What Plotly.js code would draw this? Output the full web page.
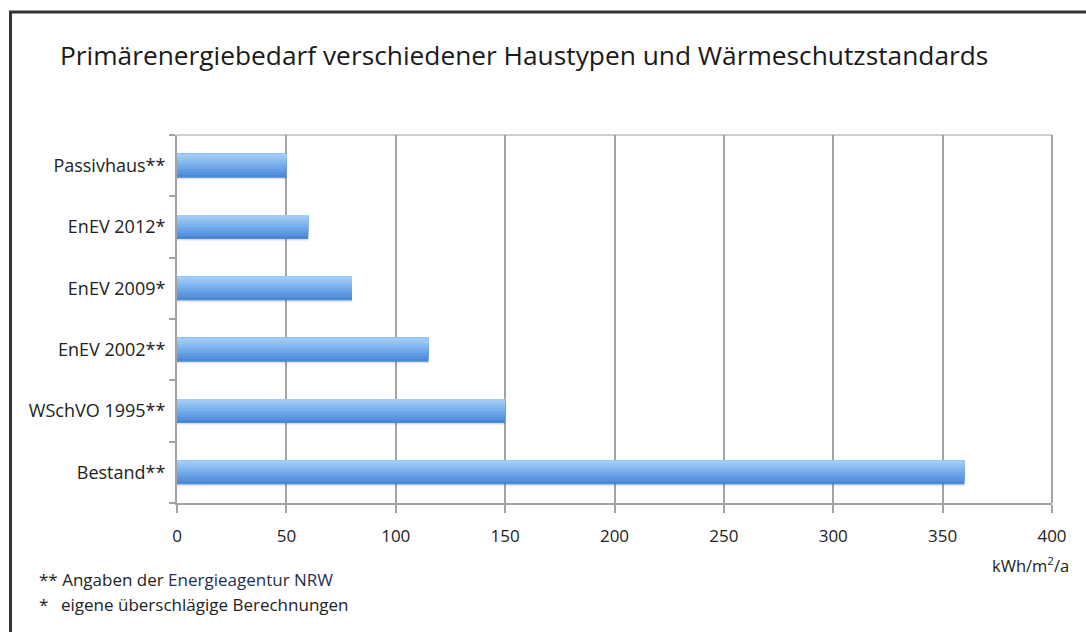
<!DOCTYPE html>
<html>
<head>
<meta charset="utf-8">
<script src="https://cdn.plot.ly/plotly-3.0.1.min.js"></script>
<style>
  html, body { margin: 0; padding: 0; background: #fff; }
  #chart { width: 1086px; height: 632px; }
</style>
</head>
<body>
<div id="chart"></div>
<script>
// Data (bottom to top, as plotted)
const categories = ["Bestand**", "WSchVO 1995**", "EnEV 2002**", "EnEV 2009*", "EnEV 2012*", "Passivhaus**"];
const values = [360, 150, 115, 80, 60, 50];
const xTickValues = [0, 50, 100, 150, 200, 250, 300, 350, 400];
const titleText = "Primärenergiebedarf verschiedener Haustypen und Wärmeschutzstandards";
const unitLabel = "kWh/m<sup>2</sup>/a";
const footnote1 = "** Angaben der <span style='color:#1f2f4f'>Energieagentur NRW</span>";
const footnote2Mark = "*";
const footnote2Text = "eigene überschlägige Berechnungen";

// Style: vertical gradient simulated with stacked overlay strips (dark bottom -> light top)
const gradientColors = ["#4a89d8", "#5793de", "#639de3", "#6fa7e8", "#7bb1ec", "#88bbf0", "#95c3f3", "#a3ccf6"];
const barWidth = 0.39;
const stripStep = barWidth / gradientColors.length;

const traces = [];
// soft shadow below bars
traces.push({
  type: "bar", orientation: "h", y: categories, x: values,
  width: barWidth, offset: -barWidth / 2 - 0.035,
  marker: { color: "rgba(0,0,0,0.06)", line: { width: 0 } },
  hoverinfo: "skip", showlegend: false
});
traces.push({
  type: "bar", orientation: "h", y: categories, x: values,
  width: barWidth, offset: -barWidth / 2 - 0.018,
  marker: { color: "rgba(0,0,0,0.08)", line: { width: 0 } },
  hoverinfo: "skip", showlegend: false
});
gradientColors.forEach((c, k) => {
  traces.push({
    type: "bar", orientation: "h", y: categories, x: values,
    width: barWidth - k * stripStep,
    offset: -barWidth / 2 + k * stripStep,
    marker: { color: c, line: { width: 0 } },
    hoverinfo: "skip", showlegend: false
  });
});

const font = "'Open Sans', 'DejaVu Sans', sans-serif";
const ml = 177, mr = 34, mt = 135, mb = 129;
const pw = 1086 - ml - mr, ph = 632 - mt - mb;
const px = x => (x - ml) / pw;
const py = y => 1 - (y - mt) / ph;

const layout = {
  width: 1086, height: 632,
  margin: { l: ml, r: mr, t: mt, b: mb, pad: 0 },
  paper_bgcolor: "#ffffff", plot_bgcolor: "#ffffff",
  barmode: "overlay",
  showlegend: false,
  font: { family: font, color: "#222222", size: 18 },
  title: {
    text: titleText,
    font: { family: font, size: 26.3, color: "#1a1a1a" },
    xref: "container", x: 60 / 1086, xanchor: "left",
    yref: "container", y: 1 - 56 / 632, yanchor: "middle"
  },
  xaxis: {
    range: [0, 400], tickvals: xTickValues, ticktext: xTickValues.map(String),
    showgrid: true, gridcolor: "#a3a3a3", gridwidth: 2,
    zeroline: false,
    showline: true, linecolor: "#a3a3a3", linewidth: 2,
    ticks: "outside", ticklen: 8, tickwidth: 2, tickcolor: "#a3a3a3",
    ticklabelstandoff: 9,
    tickfont: { family: font, size: 17, color: "#222" },
    fixedrange: true
  },
  yaxis: {
    type: "category", categoryorder: "array", categoryarray: categories,
    range: [-0.5, categories.length - 0.5],
    showgrid: false, zeroline: false,
    showline: true, linecolor: "#a3a3a3", linewidth: 2,
    ticks: "outside", tickson: "boundaries", ticklen: 6, tickwidth: 2, tickcolor: "#a3a3a3",
    ticklabelstandoff: 6,
    tickfont: { family: font, size: 18, color: "#222" },
    fixedrange: true
  },
  shapes: [
    // outer frame
    { type: "rect", xref: "paper", yref: "paper",
      x0: px(10.5), x1: px(1200), y0: py(12), y1: py(700),
      line: { color: "#333333", width: 3 }, layer: "above" },
    // plot top border
    { type: "line", xref: "paper", yref: "paper", x0: 0, x1: 1, y0: 1, y1: 1,
      line: { color: "#cfcfcf", width: 2 }, layer: "below" },
    // plot right border
    { type: "line", xref: "paper", yref: "paper", x0: 1, x1: 1, y0: 0, y1: 1,
      line: { color: "#a3a3a3", width: 2 }, layer: "below" }
  ],
  annotations: [
    { text: unitLabel, xref: "paper", yref: "paper", x: px(1071), y: py(565),
      xanchor: "right", yanchor: "middle", showarrow: false,
      font: { family: font, size: 16.5, color: "#222" } },
    { text: footnote1, xref: "paper", yref: "paper", x: px(37), y: py(579),
      xanchor: "left", yanchor: "middle", showarrow: false,
      font: { family: font, size: 17, color: "#222" } },
    { text: footnote2Mark, xref: "paper", yref: "paper", x: px(37), y: py(604),
      xanchor: "left", yanchor: "middle", showarrow: false,
      font: { family: font, size: 17, color: "#222" } },
    { text: footnote2Text, xref: "paper", yref: "paper", x: px(59), y: py(604),
      xanchor: "left", yanchor: "middle", showarrow: false,
      font: { family: font, size: 17, color: "#222" } }
  ]
};

Plotly.newPlot("chart", traces, layout, { displayModeBar: false, staticPlot: true });
</script>
</body>
</html>
